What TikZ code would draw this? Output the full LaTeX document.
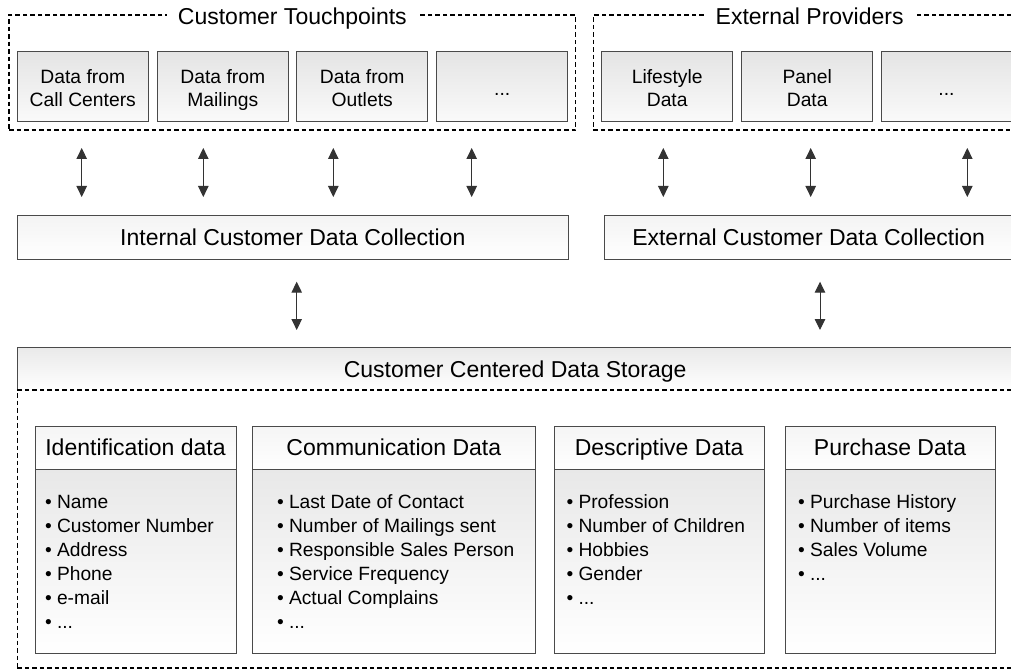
\documentclass[tikz,border=0pt]{standalone}
\usepackage{fontspec}
\setmainfont{Liberation Sans}
\usetikzlibrary{arrows.meta}

\definecolor{edge}{HTML}{4A4A4A}
% struts that give every source label the same height and depth
\newcommand\srctop{\rule{0pt}{21pt}}
\newcommand\srcbot{\vphantom{g}}

\begin{document}
\begin{tikzpicture}[x=1pt,y=-1pt,
  every node/.style={inner sep=0pt, outer sep=0pt},
  bigtext/.style={font=\fontsize{23}{27}\selectfont},
  smalltext/.style={font=\fontsize{19.3}{23.3}\selectfont},
  oneline/.style={text height=16.5pt, text depth=0pt},
  tpbox/.style={draw=edge, line width=0.9pt, top color=gray!21, bottom color=gray!4,
    anchor=north west, minimum width=131pt, minimum height=70pt, align=center, smalltext},
  barbox/.style={draw=edge, line width=0.9pt, top color=gray!9, bottom color=white,
    anchor=north west, minimum height=44pt, bigtext, oneline},
  dashgroup/.style={draw=black, line width=1.3pt, dash pattern=on 4.5pt off 3pt,
    anchor=north west},
  grouptitle/.style={fill=white, inner xsep=11pt, inner ysep=2pt, bigtext, anchor=base},
  link/.style={draw=black!80, line width=1pt,
    {Triangle[width=10.5pt,length=11pt]}-{Triangle[width=10.5pt,length=11pt]}},
  cardhead/.style={draw=edge, line width=0.9pt, top color=gray!8, bottom color=white,
    anchor=north west, minimum height=43.3pt, bigtext, oneline},
  cardbody/.style={draw=edge, line width=0.9pt, top color=gray!18, bottom color=white,
    anchor=north west, minimum height=184pt},
  items/.style={anchor=north west, align=left, font=\fontsize{19.2}{24}\selectfont}
]
\useasboundingbox (0,0) rectangle (1011,671);
\clip (0,0) rectangle (1011,671);

% --- sources: customer touchpoints ---
\node[dashgroup, minimum width=566.7pt, minimum height=115pt] (tp) at (9,15) {};
\node[grouptitle] (tptitle) at ([yshift=-9.3pt]tp.north) {Customer Touchpoints};
\node[tpbox] (calls)   at (17.3,51.7)  {\srctop Data from\\Call Centers\srcbot};
\node[tpbox] (mails)   at (157.3,51.7) {\srctop Data from\\Mailings\srcbot};
\node[tpbox] (outlets) at (296.7,51.7) {\srctop Data from\\Outlets\srcbot};
\node[tpbox] (tpmore)  at (436.7,51.7) {\srctop ...\srcbot};

% --- sources: external providers ---
\node[dashgroup, minimum width=432.7pt, minimum height=115pt] (ep) at (593.3,15) {};
\node[grouptitle] (eptitle) at ([yshift=-9.3pt]ep.north) {External Providers};
\node[tpbox] (life)   at (601.7,51.7) {\srctop Lifestyle\\Data\srcbot};
\node[tpbox] (panel)  at (741.7,51.7) {\srctop Panel\\Data\srcbot};
\node[tpbox] (epmore) at (881,51.7)   {\srctop ...\srcbot};

% --- exchange between sources and collection ---
\foreach \i/\x in {1/81.7, 2/203.3, 3/333.3, 4/471.7, 5/663.3, 6/810.7, 7/967.3}{
  \coordinate (up\i) at (\x,148);
  \coordinate (dn\i) at (\x,197);
  \draw[link] (up\i) -- (dn\i);
}

% --- collection layer ---
\node[barbox, minimum width=551pt]   (intcol) at (17.3,215)  {Internal Customer Data Collection};
\node[barbox, minimum width=408.7pt] (extcol) at (604.3,215) {External Customer Data Collection};

\coordinate (iu) at (296.7,281.7);
\coordinate (id) at (296.7,330);
\coordinate (eu) at (820,281.7);
\coordinate (ed) at (820,330);
\draw[link] (iu) -- (id);
\draw[link] (eu) -- (ed);

% --- storage ---
\node[anchor=north west, top color=gray!17, bottom color=white,
      minimum width=995.7pt, minimum height=42.3pt, bigtext, oneline] (store) at (17.3,347.7)
      {Customer Centered Data Storage};
\draw[edge, line width=0.9pt] (store.south west) -- (store.north west)
  -- (store.north east) -- (store.south east);
\node[dashgroup, minimum width=995.7pt, minimum height=278pt] (storebody) at (17.3,390) {};

% identification
\node[cardhead, minimum width=201pt]   (idh) at (35,426)     {Identification data};
\node[cardbody, minimum width=201pt]   (idb) at (35,469.3)   {};
\node[items] (idl) at (45,495)
  {• Name\\• Customer Number\\• Address\\• Phone\\• e-mail\\• ...};

% communication
\node[cardhead, minimum width=282.3pt] (coh) at (252.7,426)  {Communication Data};
\node[cardbody, minimum width=282.3pt] (cob) at (252.7,469.3) {};
\node[items] (col) at (277,494.5)
  {• Last Date of Contact\\• Number of Mailings sent\\• Responsible Sales Person\\• Service Frequency\\• Actual Complains\\• ...};

% descriptive
\node[cardhead, minimum width=209.7pt] (deh) at (554.3,426)  {Descriptive Data};
\node[cardbody, minimum width=209.7pt] (deb) at (554.3,469.3) {};
\node[items] (del) at (566.5,494.5)
  {• Profession\\• Number of Children\\• Hobbies\\• Gender\\• ...};

% purchase
\node[cardhead, minimum width=210pt]   (puh) at (785,426)    {Purchase Data};
\node[cardbody, minimum width=210pt]   (pub) at (785,469.3)  {};
\node[items] (pul) at (798,494.5)
  {• Purchase History\\• Number of items\\• Sales Volume\\• ...};
\end{tikzpicture}
\end{document}
